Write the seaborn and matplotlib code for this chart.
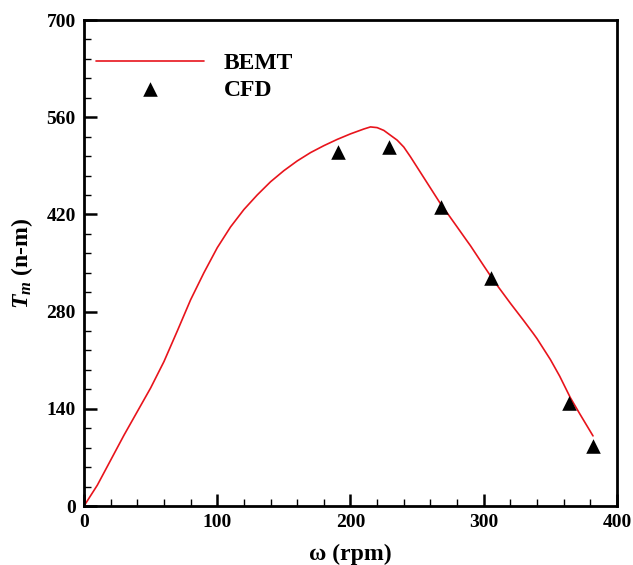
import matplotlib
matplotlib.use("Agg")
import matplotlib.pyplot as plt
import seaborn as sns
import pandas as pd
from matplotlib.ticker import MultipleLocator

# BEMT curve
bemt_rpm = [0, 10, 20, 30, 40, 50, 60, 70, 80, 90, 100, 110, 120, 130, 140, 150,
            160, 170, 180, 190, 200, 210, 215, 220, 225, 230, 235, 240, 245, 250,
            257, 260, 267, 270, 280, 287, 290, 300, 307, 310, 320, 330, 337, 340,
            350, 357, 365, 372, 382]
bemt_tm = [0, 30, 66, 102, 136, 170, 208, 252, 297, 336, 372, 402, 427, 448, 467, 483,
           497, 509, 519, 528, 536, 543, 546, 545, 541, 534, 527, 517, 503, 488,
           467, 458, 437, 429, 402, 383, 375, 346, 326, 318, 292, 267, 249, 241,
           211, 187, 156, 133, 101]

# CFD points
cfd_rpm = [191, 229, 268, 305.5, 364, 382]
cfd_tm = [510, 517, 431, 328, 149, 86]

x_ticks = [0, 100, 200, 300, 400]
y_ticks = [0, 140, 280, 420, 560, 700]

sns.set_theme(style="white")
plt.rcParams['font.family'] = ['Liberation Serif', 'DejaVu Serif']
plt.rcParams['mathtext.fontset'] = 'custom'
plt.rcParams['mathtext.it'] = 'Liberation Serif:italic:bold'
plt.rcParams['mathtext.rm'] = 'Liberation Serif:bold'
plt.rcParams['mathtext.bf'] = 'Liberation Serif:bold'
for k in ['text.color', 'axes.labelcolor', 'xtick.color', 'ytick.color', 'axes.edgecolor']:
    plt.rcParams[k] = 'black'

fig = plt.figure(figsize=(6.33, 5.65), dpi=100)
ax = fig.add_axes([0.1327, 0.1044, 0.842, 0.8602])

df_b = pd.DataFrame({"rpm": bemt_rpm, "tm": bemt_tm})
df_c = pd.DataFrame({"rpm": cfd_rpm, "tm": cfd_tm})

sns.lineplot(data=df_b, x="rpm", y="tm", ax=ax, color="#e8141c", lw=1.2,
             label="BEMT", sort=False, estimator=None)
sns.scatterplot(data=df_c, x="rpm", y="tm", ax=ax, marker="^", color="black",
                s=110, edgecolor="black", linewidth=0, label="CFD", zorder=5)

ax.set_xlim(0, 400)
ax.set_ylim(0, 700)
ax.set_xticks(x_ticks)
ax.set_yticks(y_ticks)
ax.xaxis.set_minor_locator(MultipleLocator(20))
ax.yaxis.set_minor_locator(MultipleLocator(28))
ax.tick_params(axis="both", which="major", direction="in", length=9, width=1.8,
               labelsize=14, top=False, right=False, bottom=True, left=True, pad=6)
ax.tick_params(axis="both", which="minor", direction="in", length=5, width=1,
               top=False, right=False, bottom=True, left=True)
for lab in ax.get_xticklabels() + ax.get_yticklabels():
    lab.set_fontweight("bold")
for sp in ax.spines.values():
    sp.set_linewidth(2)
    sp.set_color("black")

ax.set_xlabel("ω (rpm)", fontsize=17, fontweight="bold")
ax.xaxis.set_label_coords(0.5, -0.078)
ax.set_ylabel("$T_m$ (n-m)", fontsize=17, fontweight="bold", labelpad=8)

leg = ax.legend(loc="upper left", bbox_to_anchor=(-0.018, 0.976), frameon=False,
                handlelength=4.57, handletextpad=0.85, labelspacing=0.2,
                prop={"weight": "bold", "size": 17})

fig.savefig("out.png", dpi=100)
